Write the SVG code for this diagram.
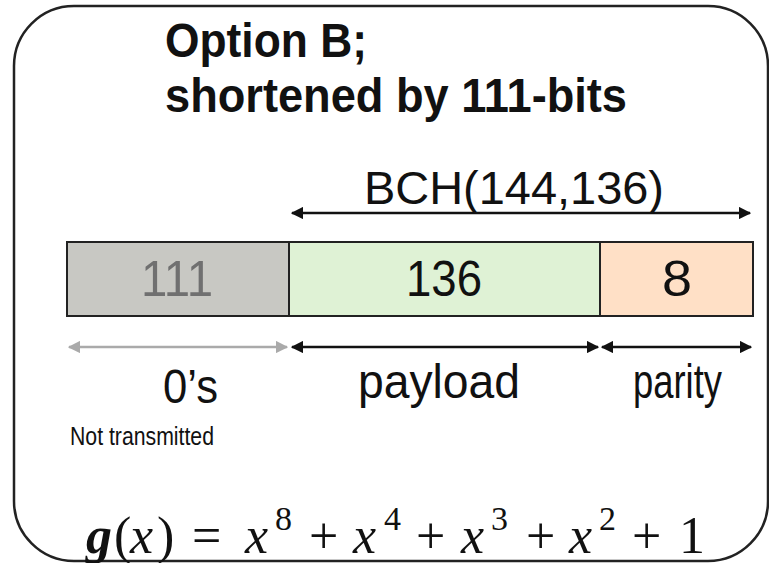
<svg xmlns="http://www.w3.org/2000/svg" width="769" height="563" viewBox="0 0 769 563">
<style>
.t{font-family:"Liberation Sans",Arial,sans-serif;fill:#111}
.b{font-weight:bold}
.m{font-family:"Liberation Serif","Times New Roman",serif;fill:#111;font-size:52px}
.i{font-style:italic}
.sup{font-size:34px}
.seg{stroke:#222;stroke-width:2}
.ar{stroke:#111;stroke-width:2.5;fill:none}
</style>
<defs>
<marker id="ah" viewBox="0 0 10 10" refX="9" refY="5" markerWidth="5" markerHeight="5" orient="auto-start-reverse" markerUnits="strokeWidth"><path d="M0,0 L10,5 L0,10 z" fill="#111"/></marker>
<marker id="ahg" viewBox="0 0 10 10" refX="9" refY="5" markerWidth="5" markerHeight="5" orient="auto-start-reverse" markerUnits="strokeWidth"><path d="M0,0 L10,5 L0,10 z" fill="#aaa"/></marker>
</defs>
<rect id="frame" x="14" y="6" width="754" height="555" rx="60" ry="60" fill="#fff" stroke="#222" stroke-width="2.5"/>
<g id="title">
<text class="t b" x="165" y="57" font-size="48" textLength="202" lengthAdjust="spacingAndGlyphs">Option B;</text>
<text class="t b" x="165" y="112" font-size="48" textLength="462" lengthAdjust="spacingAndGlyphs">shortened by 111-bits</text>
</g>
<g id="bch"><text class="t" x="364" y="204" font-size="46" textLength="300" lengthAdjust="spacingAndGlyphs">BCH(144,136)</text></g>
<g id="seg-zeros"><rect class="seg" x="67" y="242" width="222" height="74" fill="#c8c8c3"/><text class="t" x="141" y="296" font-size="50" textLength="72" lengthAdjust="spacingAndGlyphs" style="fill:#707070">111</text></g>
<g id="seg-payload"><rect class="seg" x="289" y="242" width="311" height="74" fill="#dff2d5"/><text class="t" x="406" y="296" font-size="50" textLength="76" lengthAdjust="spacingAndGlyphs">136</text></g>
<g id="seg-parity"><rect class="seg" x="600" y="242" width="153" height="74" fill="#ffe0c6"/><text class="t" x="662" y="296" font-size="50" textLength="30" lengthAdjust="spacingAndGlyphs">8</text></g>
<g id="connectors">
<line class="ar" x1="292" y1="213" x2="750" y2="213" marker-start="url(#ah)" marker-end="url(#ah)"/>
<line x1="69" y1="347" x2="287" y2="347" stroke="#aaa" stroke-width="2.5" marker-start="url(#ahg)" marker-end="url(#ahg)"/>
<line class="ar" x1="292" y1="347" x2="598" y2="347" marker-start="url(#ah)" marker-end="url(#ah)"/>
<line class="ar" x1="602" y1="347" x2="751" y2="347" marker-start="url(#ah)" marker-end="url(#ah)"/>
</g>
<g id="labels">
<text class="t" x="163" y="403" font-size="48" textLength="55" lengthAdjust="spacingAndGlyphs">0’s</text>
<text class="t" x="358" y="398" font-size="48" textLength="162" lengthAdjust="spacingAndGlyphs">payload</text>
<text class="t" x="633" y="398" font-size="48" textLength="89" lengthAdjust="spacingAndGlyphs">parity</text>
<text class="t" x="70" y="445" font-size="25" textLength="144" lengthAdjust="spacingAndGlyphs">Not transmitted</text>
</g>
<g id="formula">
<text class="m" y="553"><tspan x="86" class="i" font-weight="bold">g</tspan><tspan x="114">(</tspan><tspan x="130" class="i">x</tspan><tspan x="157">)</tspan><tspan x="192">=</tspan><tspan x="245" class="i">x</tspan><tspan x="275" class="sup" dy="-23">8</tspan><tspan x="309" dy="23">+</tspan><tspan x="353" class="i">x</tspan><tspan x="384" class="sup" dy="-23">4</tspan><tspan x="416" dy="23">+</tspan><tspan x="461" class="i">x</tspan><tspan x="491" class="sup" dy="-23">3</tspan><tspan x="526" dy="23">+</tspan><tspan x="569" class="i">x</tspan><tspan x="599" class="sup" dy="-23">2</tspan><tspan x="632" dy="23">+</tspan><tspan x="679">1</tspan></text>
</g>
</svg>
